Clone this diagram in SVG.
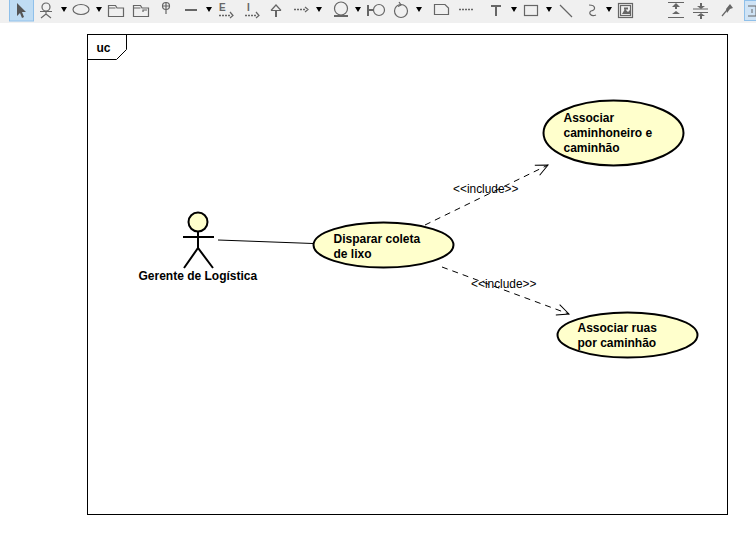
<svg xmlns="http://www.w3.org/2000/svg" width="756" height="545" viewBox="0 0 756 545">
<style>
text{font-family:"Liberation Sans",Arial,sans-serif;fill:#000}
.b{font-size:12px;font-weight:bold}
.i{font-size:11.9px}
.n{fill:#ffffcc;stroke:#000;stroke-width:2}
.c{fill:none;stroke:#000;stroke-width:1}
.d{stroke-dasharray:6 5}
.t{fill:none;stroke:#666;stroke-width:1.2}
.w{fill:none;stroke:#666;stroke-width:2}
.o{fill:none;stroke:#666;stroke-width:1.500;stroke-dasharray:2 1}
.f{fill:#666;stroke:none}
.g{font-size:10px;font-weight:bold;fill:#666}
</style>
<defs><marker id="open" markerWidth="22" markerHeight="14" refX="20" refY="7" orient="auto" markerUnits="userSpaceOnUse"><path d="M8 1.500L20 7L8 12.500" fill="none" stroke="#000"/></marker></defs>
<rect width="756" height="545" fill="#fff"/>
<g id="toolbar">
<rect width="756" height="23" fill="#f0f0f0"/>
<rect x="9.500" y="-1" width="24" height="22" fill="#bfdcf3" stroke="#8fc0ea"/>
<path d="M17 3L17 16L20 13L22 18L24 17L22 12L26 12Z" fill="#555"/>
<g class="t"><circle cx="46" cy="7" r="4"/><path d="M40 11.500H52M46 11V14M41 18L46 14L51 18"/>
<ellipse cx="81" cy="9.500" rx="8" ry="5"/>
<path d="M108.500 16.500V5.500H115.500L117 8H123.500V16.500ZM108.500 8H115.500"/>
<path d="M133.500 16.500V5.500H140.500L142 8H148.500V16.500ZM133.500 8H140.500M143 12V10H147"/>
<circle cx="166" cy="6" r="3.500"/><path d="M166 2V14M162.500 6H169.500"/>
<path d="M271 10.500L276 5L281 10.500M271 10.500H281"/>
<ellipse cx="341" cy="8.500" rx="6.500" ry="6.500"/>
<circle cx="379" cy="10" r="5.500"/>
<circle cx="401" cy="11" r="6.500"/><path d="M399 2L401 5L398 6.500"/>
<path d="M434.500 4.500H445L448.500 8V14.500H434.500Z"/>
<rect x="524.500" y="5.500" width="13" height="10"/>
<path d="M560 5L572 17M589 5C596 5 596 10 591 11C588 13 591 17 596 15"/>
<rect x="618.500" y="3.500" width="14" height="14"/>
<rect x="620.500" y="5.500" width="10" height="10"/>
<path d="M668 2.500H684M668 17.500H684M693 9H708M693 12.500H708"/>
<path d="M722 16L727 10"/>
</g>
<path class="w" d="M185 10H197M276 10V17M334 16H348M369 10H373"/>
<path class="w" d="M368 5V16"/>
<path class="o" d="M219 15.500H231M245 15.500H257M294 9.500H306M459 9.500H473"/>
<path class="t" d="M230 12L233 15.500L230 18M256 12L259 15.500L256 18M305 7L308 9.500L305 12"/>
<g class="f">
<path d="M61 7H67L64 12ZM96 7H102L99 12ZM206 7H212L209 12ZM316 7H322L319 12ZM355 7H361L358 12ZM416 7H422L419 12ZM511 7H517L514 12ZM546 7H552L549 12ZM606 7H612L609 12Z" style="fill:#000"/>
<path d="M491 5H501V7H497V16H495V7H491Z"/>
<path d="M622 14L625 9L628 12L630 10V14ZM624 7.500h4v2h-4Z"/>
<path d="M672 7L676 3L680 7H677V9H675V7ZM672 14L676 11L680 14Z"/>
<path d="M697 6L701 9L705 6H702V3H700V6ZM697 16L701 13L705 16H702V19H700V16Z"/>
<path d="M726 9L730 4L733 8L730 9L727 13Z"/>
</g>
<text class="g" x="219" y="11">E</text>
<text class="g" x="247" y="11">I</text>
<rect x="744.500" y="0.500" width="14" height="20" fill="#cfe3f5" stroke="#8fc0ea"/>
<path d="M748 6H756V16H748M752 9V13" fill="none" stroke="#666"/>
</g>
<g id="frame">
<rect x="87.500" y="34.500" width="640" height="480" fill="#fff" stroke="#000"/>
<path class="c" d="M87.500 59.500H116.500L126.500 49.500V34.500"/>
<text class="b" x="96.500" y="52">uc</text>
</g>
<g id="connectors">
<path class="c" d="M218 240L313 243.500"/>
<path class="c d" d="M425 225L548 165" marker-end="url(#open)"/>
<path class="c d" d="M442 267L569 314" marker-end="url(#open)"/>
<text class="i" x="453" y="193">&lt;&lt;include&gt;&gt;</text>
<text class="i" x="471" y="288">&lt;&lt;include&gt;&gt;</text>
</g>
<g id="actor">
<circle class="n" cx="198" cy="222" r="9.500"/>
<path d="M198 232V248M183 237H214M184 268L198 248L213 268" fill="none" stroke="#000" stroke-width="2"/>
<text class="b" x="138.500" y="280">Gerente de Logística</text>
</g>
<g id="uc-disparar">
<ellipse class="n" cx="383.500" cy="245" rx="70" ry="22.500"/>
<text class="b" x="333.500" y="243">Disparar coleta</text>
<text class="b" x="333.500" y="258">de lixo</text>
</g>
<g id="uc-caminhoneiro">
<ellipse class="n" cx="613.500" cy="133" rx="70" ry="32.500"/>
<text class="b" x="563.500" y="122">Associar</text>
<text class="b" x="563.500" y="137">caminhoneiro e</text>
<text class="b" x="563.500" y="152">caminhão</text>
</g>
<g id="uc-ruas">
<ellipse class="n" cx="627.500" cy="335" rx="70" ry="22.500"/>
<text class="b" x="577.500" y="332">Associar ruas</text>
<text class="b" x="577.500" y="347">por caminhão</text>
</g>
</svg>
